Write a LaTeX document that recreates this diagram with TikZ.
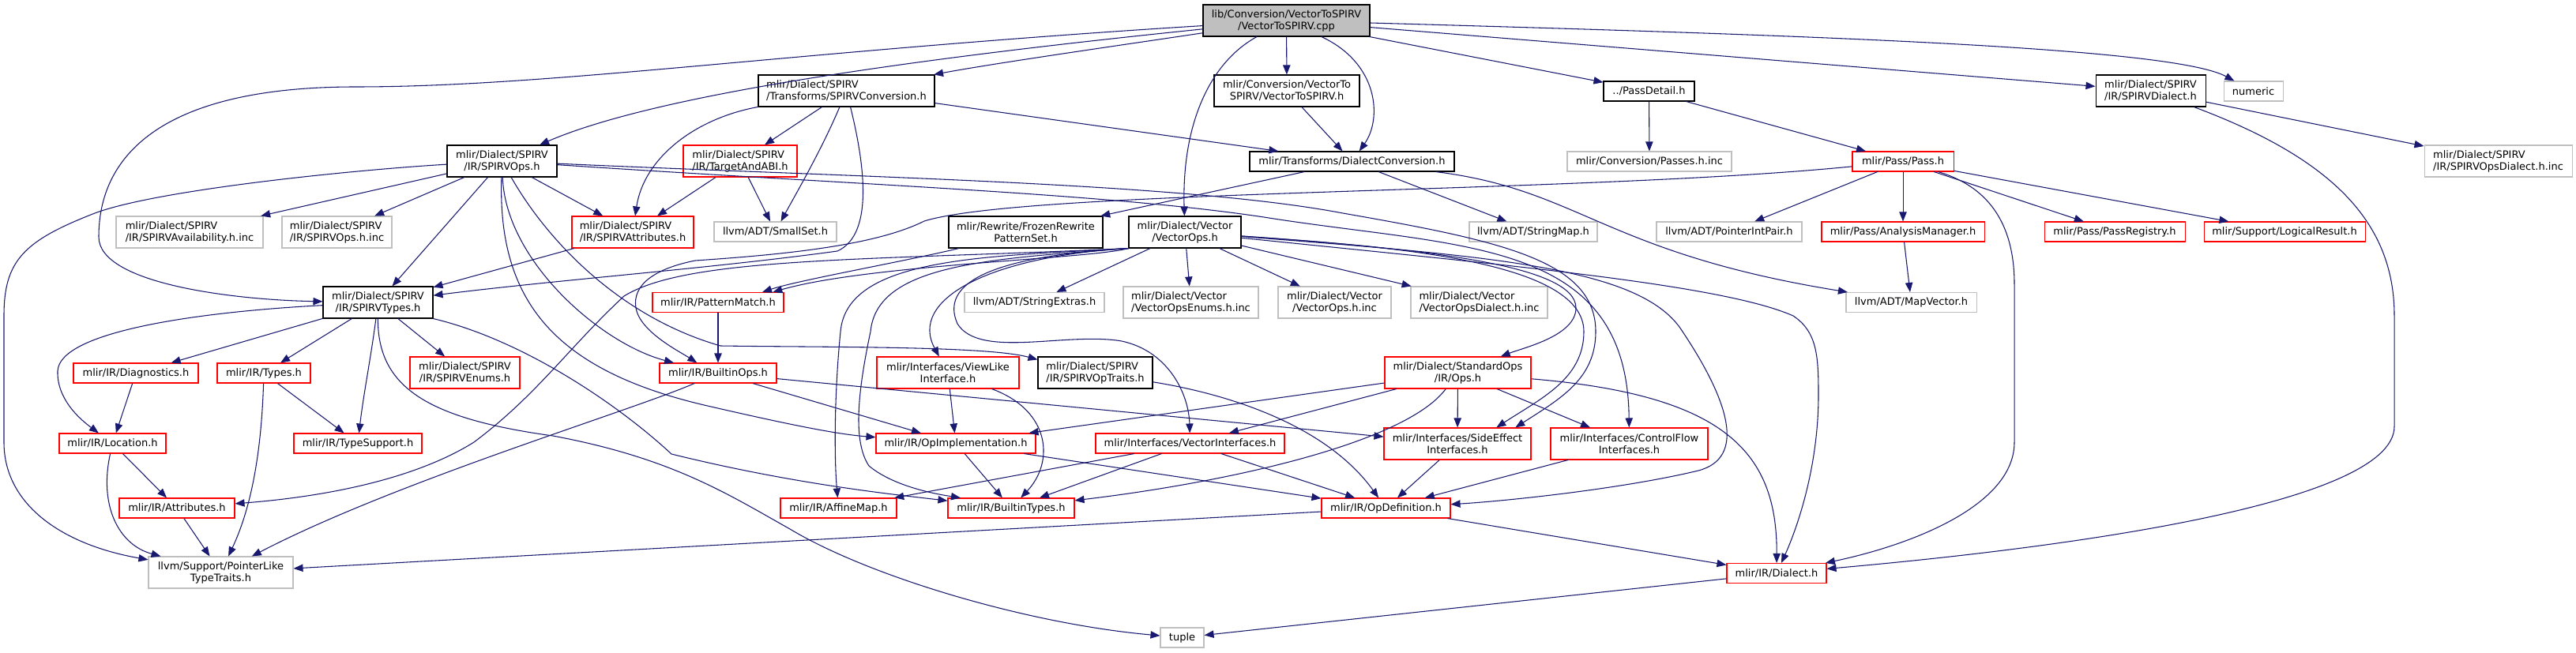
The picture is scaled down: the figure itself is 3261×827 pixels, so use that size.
\documentclass[tikz,border=0pt]{standalone}
\usepackage{fontspec}
\setmainfont{DejaVu Sans}
\usetikzlibrary{arrows.meta}
\definecolor{edgec}{HTML}{191970}
\definecolor{grayb}{HTML}{BFBFBF}
\definecolor{redb}{HTML}{FF0000}
\begin{document}
\begin{tikzpicture}[x=0.75pt,y=-0.75pt,
  nb/.style={draw,line width=0.8pt,inner sep=0pt,font=\fontsize{9.75}{11.25}\selectfont,align=center},
  bx/.style 2 args={minimum width=#1*0.75pt,minimum height=#2*0.75pt},
  redn/.style={nb,draw=redb},
  grayn/.style={nb,draw=grayb},
  blackn/.style={nb,draw=black},
  rootn/.style={nb,draw=black,fill=grayb},
  lnk/.style={draw=edgec,line width=0.8pt,-{Triangle[length=9pt,width=7pt]}}]
\fill[white] (0,0) rectangle (3261,827);
\useasboundingbox (0,0) rectangle (3261,827);
% ---------------- nodes ----------------
\node[rootn,bx={211}{40}] (src) at (1628.5,26) {lib/Conversion/VectorToSPIRV\\/VectorToSPIRV.cpp};
\node[blackn,bx={223}{40},align=left] (spConv) at (1071.5,115) {mlir/Dialect/SPIRV\\/Transforms/SPIRVConversion.h};
\node[blackn,bx={184}{40}] (v2s) at (1629,115) {mlir/Conversion/VectorTo\\SPIRV/VectorToSPIRV.h};
\node[blackn,bx={115}{25}] (passdetail) at (2087.5,115.5) {../PassDetail.h};
\node[blackn,bx={139}{40}] (spDialect) at (2722.5,115) {mlir/Dialect/SPIRV\\/IR/SPIRVDialect.h};
\node[grayn,bx={75}{25}] (numeric) at (2852.5,115.5) {numeric};
\node[blackn,bx={139}{40}] (spOps) at (635.5,204) {mlir/Dialect/SPIRV\\/IR/SPIRVOps.h};
\node[redn,bx={144}{40},align=left] (tabi) at (937,204) {mlir/Dialect/SPIRV\\/IR/TargetAndABI.h};
\node[blackn,bx={259}{25}] (dconv) at (1711.5,204.5) {mlir/Transforms/DialectConversion.h};
\node[grayn,bx={208}{25}] (passesinc) at (2088,204.5) {mlir/Conversion/Passes.h.inc};
\node[redn,bx={128}{25}] (pass) at (2409,204.5) {mlir/Pass/Pass.h};
\node[grayn,bx={187}{40},align=left] (spdiainc) at (3162.5,204) {mlir/Dialect/SPIRV\\/IR/SPIRVOpsDialect.h.inc};
\node[grayn,bx={186}{40},align=left] (avail) at (240,294) {mlir/Dialect/SPIRV\\/IR/SPIRVAvailability.h.inc};
\node[grayn,bx={139}{40},align=left] (opsinc) at (426.5,294) {mlir/Dialect/SPIRV\\/IR/SPIRVOps.h.inc};
\node[redn,bx={154}{40},align=left] (spAttr) at (801,294) {mlir/Dialect/SPIRV\\/IR/SPIRVAttributes.h};
\node[grayn,bx={155}{25}] (smallset) at (981.5,293.5) {llvm/ADT/SmallSet.h};
\node[blackn,bx={195}{40}] (frozen) at (1298.5,294) {mlir/Rewrite/FrozenRewrite\\PatternSet.h};
\node[blackn,bx={142}{40}] (vops) at (1500,294) {mlir/Dialect/Vector\\/VectorOps.h};
\node[grayn,bx={162}{25}] (strmap) at (1941,293.5) {llvm/ADT/StringMap.h};
\node[grayn,bx={184}{25}] (pip) at (2189,293.5) {llvm/ADT/PointerIntPair.h};
\node[redn,bx={206}{25}] (am) at (2409,293.5) {mlir/Pass/AnalysisManager.h};
\node[redn,bx={178}{25}] (passreg) at (2677,293.5) {mlir/Pass/PassRegistry.h};
\node[redn,bx={204}{25}] (logres) at (2892,293.5) {mlir/Support/LogicalResult.h};
\node[blackn,bx={139}{40}] (spTypes) at (478.5,383) {mlir/Dialect/SPIRV\\/IR/SPIRVTypes.h};
\node[redn,bx={166}{25}] (pmatch) at (909,383) {mlir/IR/PatternMatch.h};
\node[grayn,bx={177}{25}] (strext) at (1309.5,383) {llvm/ADT/StringExtras.h};
\node[grayn,bx={171}{40},align=left] (enums) at (1507.5,383) {mlir/Dialect/Vector\\/VectorOpsEnums.h.inc};
\node[grayn,bx={143}{40}] (vopsinc) at (1689.5,383) {mlir/Dialect/Vector\\/VectorOps.h.inc};
\node[grayn,bx={173}{40},align=left] (vdiainc) at (1872.5,383) {mlir/Dialect/Vector\\/VectorOpsDialect.h.inc};
\node[grayn,bx={165}{25}] (mapvec) at (2419.5,383) {llvm/ADT/MapVector.h};
\node[redn,bx={158}{25}] (diag) at (172,472.5) {mlir/IR/Diagnostics.h};
\node[redn,bx={118}{25}] (types) at (334,472.5) {mlir/IR/Types.h};
\node[redn,bx={139}{40}] (enumsSP) at (588.5,472) {mlir/Dialect/SPIRV\\/IR/SPIRVEnums.h};
\node[redn,bx={148}{25}] (bops) at (909,472.5) {mlir/IR/BuiltinOps.h};
\node[redn,bx={180}{40}] (viewlike) at (1200,472) {mlir/Interfaces/ViewLike\\Interface.h};
\node[blackn,bx={145}{40},align=left] (optraits) at (1386.5,472) {mlir/Dialect/SPIRV\\/IR/SPIRVOpTraits.h};
\node[redn,bx={185}{40}] (stdops) at (1845.5,472) {mlir/Dialect/StandardOps\\/IR/Ops.h};
\node[redn,bx={135}{25}] (loc) at (142.5,561.5) {mlir/IR/Location.h};
\node[redn,bx={162}{25}] (tsup) at (453,561.5) {mlir/IR/TypeSupport.h};
\node[redn,bx={202}{25}] (opimpl) at (1210,561.5) {mlir/IR/OpImplementation.h};
\node[redn,bx={239}{25}] (vecif) at (1506.5,561.5) {mlir/Interfaces/VectorInterfaces.h};
\node[redn,bx={186}{40}] (sideeff) at (1845,562) {mlir/Interfaces/SideEffect\\Interfaces.h};
\node[redn,bx={199}{40}] (cflow) at (2062.5,562) {mlir/Interfaces/ControlFlow\\Interfaces.h};
\node[redn,bx={146}{25}] (attrs) at (224,643.5) {mlir/IR/Attributes.h};
\node[redn,bx={147}{25}] (affine) at (1061.5,643.5) {mlir/IR/AffineMap.h};
\node[redn,bx={160}{25}] (btypes) at (1280,643.5) {mlir/IR/BuiltinTypes.h};
\node[redn,bx={163}{25}] (opdef) at (1754.5,643.5) {mlir/IR/OpDefinition.h};
\node[grayn,bx={183}{40}] (plike) at (279.5,725) {llvm/Support/PointerLike\\TypeTraits.h};
\node[redn,bx={126}{25}] (dialect) at (2249,726) {mlir/IR/Dialect.h};
\node[grayn,bx={55}{25}] (tuple) at (1496.5,807.5) {tuple};
% ---------------- edges ----------------
% root
\path[lnk] (src) .. controls (1150,75) and (830,120) .. (spOps);
\path[lnk] (src) .. controls (1000,65) and (700,110) .. (450,110) .. controls (200,110) and (125,200) .. (125,300) .. controls (125,360) and (300,380) .. (spTypes);
\path[lnk] (src) .. controls (1400,60) and (1260,80) .. (spConv);
\path[lnk] (src) -- (v2s);
\path[lnk] (src) .. controls (1745,80) and (1750,150) .. (dconv);
\path[lnk] (src) .. controls (1530,80) and (1496,160) .. (vops);
\path[lnk] (src) -- (passdetail);
\path[lnk] (src) -- (spDialect);
\path[lnk] (src) .. controls (2300,45) and (2750,60) .. (numeric);
% SPIRVConversion
\path[lnk] (spConv) -- (tabi);
\path[lnk] (spConv) .. controls (1040,190) and (1005,250) .. (smallset);
\path[lnk] (spConv) .. controls (880,150) and (815,200) .. (spAttr);
\path[lnk] (spConv) -- (dconv);
\path[lnk] (spConv) .. controls (1100,230) and (1100,300) .. (1060,318) .. controls (900,340) and (700,355) .. (spTypes);
\path[lnk] (v2s) -- (dconv);
% PassDetail, Pass, SPIRVDialect
\path[lnk] (passdetail) -- (passesinc);
\path[lnk] (passdetail) -- (pass);
\path[lnk] (spDialect) -- (spdiainc);
\path[lnk] (spDialect) .. controls (2950,200) and (3031,280) .. (3031,400) -- (3031,540) .. controls (3031,640) and (2600,695) .. (dialect);
\path[lnk] (pass) -- (pip);
\path[lnk] (pass) -- (am);
\path[lnk] (pass) -- (passreg);
\path[lnk] (pass) -- (logres);
\path[lnk] (pass) .. controls (2530,240) and (2550,300) .. (2550,360) -- (2550,560) .. controls (2550,640) and (2420,690) .. (dialect);
\path[lnk] (pass) .. controls (2000,245) and (1300,240) .. (1170,280) .. controls (1110,310) and (1000,322) .. (880,330) .. controls (830,340) and (800,360) .. (805,390) .. controls (810,420) and (860,445) .. ([xshift=-20pt]bops.north);
\path[lnk] (am) -- (mapvec);
% DialectConversion, TargetAndABI, Frozen
\path[lnk] (dconv) -- (frozen);
\path[lnk] (dconv) -- (strmap);
\path[lnk] (dconv) .. controls (2000,240) and (2030,320) .. (mapvec);
\path[lnk] (tabi) -- (spAttr);
\path[lnk] (tabi) -- (smallset);
\path[lnk] (frozen) .. controls (1150,330) and (1010,355) .. ([xshift=42pt]pmatch.north);
\path[lnk] (pmatch) -- (bops);
% SPIRVOps
\path[lnk] (spOps) -- (avail);
\path[lnk] (spOps) -- (opsinc);
\path[lnk] (spOps) -- (spTypes);
\path[lnk] (spOps) -- (spAttr);
\path[lnk] (spOps) .. controls (450,215) and (200,240) .. (120,270) .. controls (30,305) and (5,330) .. (5,400) -- (5,560) .. controls (5,640) and (80,690) .. (plike);
\path[lnk] (spOps) .. controls (640,330) and (760,435) .. ([xshift=-42pt]bops.north);
\path[lnk] (spOps) .. controls (630,380) and (700,470) .. (900,515) .. controls (1000,538) and (1060,550) .. (opimpl);
\path[lnk] (spOps) .. controls (690,300) and (780,400) .. (912,438) .. controls (1050,440) and (1250,438) .. ([yshift=-3pt]optraits.north west);
\path[lnk] (spOps) .. controls (1100,225) and (1500,232) .. (1700,270) .. controls (1900,305) and (2020,330) .. (2020,420) .. controls (2020,480) and (1975,505) .. ([xshift=55pt]sideeff.north);
\path[lnk] (spOps) .. controls (1100,235) and (1400,245) .. (1600,275) .. controls (1850,315) and (2060,300) .. (cflow);
\path[lnk] (spAttr) -- (spTypes);
% SPIRVTypes
\path[lnk] (spTypes) -- (diag);
\path[lnk] (spTypes) -- (types);
\path[lnk] (spTypes) .. controls (470,450) and (460,500) .. (tsup);
\path[lnk] (spTypes) -- (enumsSP);
\path[lnk] (spTypes) .. controls (250,395) and (75,420) .. (73,470) .. controls (72,505) and (100,530) .. (loc);
\path[lnk] (spTypes.south east) .. controls (660,430) and (780,510) .. (850,575) .. controls (1000,612) and (1120,625) .. (btypes);
\path[lnk] (spTypes) .. controls (478,490) and (540,530) .. (700,552) .. controls (850,580) and (920,625) .. (1000,670) .. controls (1100,730) and (1300,790) .. (tuple);
% lower left
\path[lnk] (loc) -- (attrs);
\path[lnk] (loc) .. controls (125,640) and (150,690) .. (plike);
\path[lnk] (diag) -- (loc);
\path[lnk] (types) -- (tsup);
\path[lnk] (types) .. controls (330,600) and (310,660) .. (plike);
\path[lnk] (attrs) -- (plike);
\path[lnk] (bops) .. controls (800,520) and (500,610) .. (plike);
\path[lnk] (opdef) -- (plike);
\path[lnk] (bops) -- (opimpl);
\path[lnk] (bops) -- (sideeff);
% middle
\path[lnk] (viewlike) -- (opimpl);
\path[lnk] (viewlike) .. controls (1330,520) and (1335,585) .. (btypes);
\path[lnk] (optraits) .. controls (1560,500) and (1680,540) .. (opdef);
\path[lnk] (opimpl) -- (btypes);
\path[lnk] (opimpl) -- (opdef);
\path[lnk] (vecif) -- (affine);
\path[lnk] (vecif) -- (btypes);
\path[lnk] (vecif) -- (opdef);
\path[lnk] (sideeff) -- (opdef);
\path[lnk] (cflow) -- (opdef);
\path[lnk] (opdef) -- (dialect);
\path[lnk] (dialect) -- (tuple);
% StandardOps
\path[lnk] (stdops) -- (opimpl);
\path[lnk] (stdops) -- (vecif);
\path[lnk] (stdops) .. controls (1780,560) and (1560,610) .. (btypes);
\path[lnk] (stdops) -- (sideeff);
\path[lnk] (stdops) -- (cflow);
\path[lnk] (stdops) .. controls (2180,500) and (2250,570) .. (dialect);
% VectorOps
\path[lnk] (vops.south west) .. controls (1380,328) and (1100,335) .. ([xshift=52pt]pmatch.north);
\path[lnk] (vops) -- (strext);
\path[lnk] (vops) -- (enums);
\path[lnk] (vops) -- (vopsinc);
\path[lnk] (vops) -- (vdiainc);
\path[lnk] (vops.south west) .. controls (1250,325) and (1150,380) .. (viewlike);
\path[lnk] (vops.south west) .. controls (1250,325) and (1072,325) .. (1064,420) .. controls (1056,500) and (1056,580) .. (affine);
\path[lnk] (vops.south west) .. controls (1250,328) and (1110,335) .. (1102,420) .. controls (1085,500) and (1080,560) .. (1100,590) .. controls (1130,615) and (1180,625) .. ([xshift=-48pt]btypes.north);
\path[lnk] (vops.south west) .. controls (1100,330) and (870,325) .. (790,375) .. controls (720,440) and (680,500) .. (600,560) .. controls (520,610) and (400,630) .. (attrs);
\path[lnk] (vops) .. controls (1800,315) and (1995,335) .. (1995,390) .. controls (1995,425) and (1930,440) .. (stdops);
\path[lnk] (vops) .. controls (1760,312) and (2005,330) .. (2005,420) .. controls (2005,480) and (1950,505) .. ([xshift=37pt]sideeff.north);
\path[lnk] (vops) .. controls (1900,325) and (2080,340) .. (2130,420) .. controls (2190,510) and (2210,580) .. (2150,596) .. controls (2050,620) and (1900,635) .. (opdef);
\path[lnk] (vops) .. controls (1900,335) and (2180,360) .. (2270,400) .. controls (2300,420) and (2302,450) .. (2302,500) .. controls (2302,600) and (2270,680) .. (dialect);
\path[lnk] (vops.south west) .. controls (1250,325) and (1190,360) .. (1212,410) .. controls (1240,455) and (1350,420) .. (1420,432) .. controls (1480,445) and (1505,500) .. (vecif);
\end{tikzpicture}
\end{document}
